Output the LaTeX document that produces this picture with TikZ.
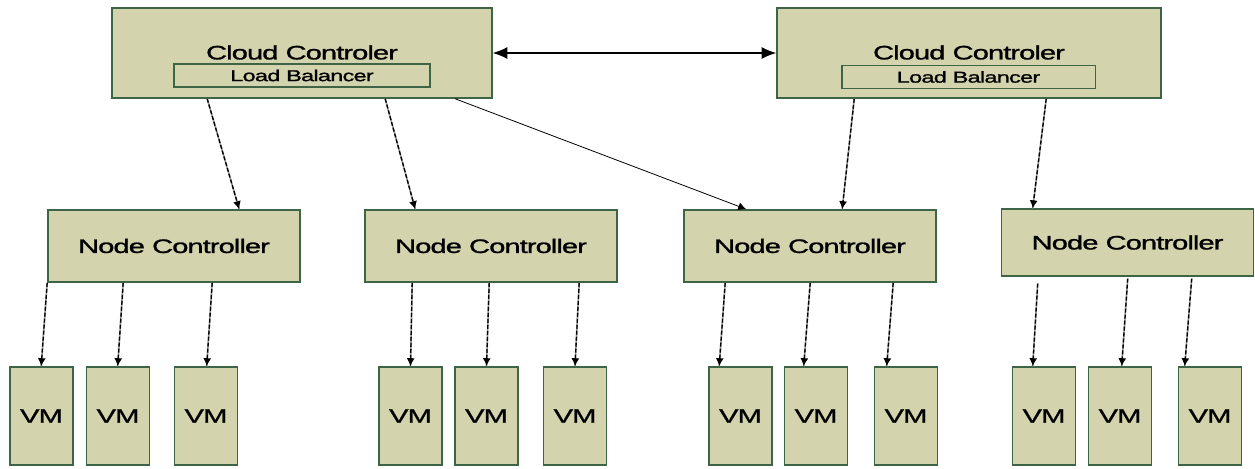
\documentclass[tikz,border=0pt]{standalone}
\usepackage{fontspec}
\newfontfamily\diagfont[FakeStretch=1.5,LetterSpace=-5,FakeBold=1.2]{Liberation Sans}
\usetikzlibrary{arrows.meta,calc}
\definecolor{boxfill}{RGB}{211,211,173}
\definecolor{boxline}{RGB}{62,100,70}

\begin{document}
\begin{tikzpicture}[
  x=0.75pt, y=-0.75pt,
  box/.style={draw=boxline, line width=1.2pt, fill=boxfill, inner sep=0pt, font=\diagfont\fontsize{14.6}{16}\selectfont},
  cloudbox/.style={box, minimum width=285pt, minimum height=67.5pt},
  lbbox/.style={box, line width=1pt, minimum width=192pt, minimum height=17.25pt, font=\diagfont\fontsize{11.8}{13}\selectfont},
  ncbox/.style={box, minimum width=189pt, minimum height=54pt},
  vmbox/.style={box, minimum width=47.25pt, minimum height=73.5pt},
  link/.style={-{Latex[length=6pt,width=6pt]}, line width=1pt, dash pattern=on 3pt off 1.5pt,
    preaction={draw=black!40, line width=1.2pt, solid, -}},
  thinlink/.style={-{Latex[length=6pt,width=6pt]}, line width=0.6pt},
  peer/.style={{Latex[length=11pt,width=9pt]}-{Latex[length=11pt,width=9pt]}, line width=0.8pt}
]
\useasboundingbox (0,0) rectangle (1255,468);

% cloud controllers
\node[cloudbox] (cc1) at (302,53) {\raisebox{1pt}{Cloud Controler}};
\node[lbbox] (lb1) at (302,75.5) {Load Balancer};
\node[cloudbox, minimum width=288pt] (cc2) at (969,53) {\raisebox{1pt}{Cloud Controler}};
\node[lbbox, minimum width=190pt] (lb2) at (968.5,77) {Load Balancer};
\draw[peer] (cc1.east) -- (cc2.west);

% node controllers
\node[ncbox] (nc1) at (174,246) {Node Controller};
\node[ncbox] (nc2) at (491,246) {Node Controller};
\node[ncbox] (nc3) at (810,246) {Node Controller};
\node[ncbox, minimum height=50pt] (nc4) at (1127.5,242.5) {Node Controller};

% virtual machines
\foreach \name/\cx in {vm11/41.5, vm12/118, vm13/206,
                       vm21/410.5, vm22/486.5, vm23/575,
                       vm31/740.5, vm32/816, vm33/906,
                       vm41/1044, vm42/1120, vm43/1210}
  \node[vmbox] (\name) at (\cx,416) {VM};

% cloud -> node controllers
\draw[link] ($(cc1.south west)+(96,0)$) -- ($(nc1.north west)+(192,0)$);
\draw[link] ($(cc1.south west)+(274,0)$) -- ($(nc2.north west)+(51,0)$);
\draw[thinlink] ($(cc1.south west)+(344,0)$) -- ($(nc3.north west)+(63,0)$);
\draw[link] ($(cc2.south west)+(78,0)$) -- ($(nc3.north west)+(159,0)$);
\draw[link] ($(cc2.south west)+(270,0)$) -- ($(nc4.north west)+(32,0)$);

% node controllers -> vms
\draw[link] (nc1.south west) -- ($(vm11.north west)+(32,0)$);
\draw[link] ($(nc1.south west)+(76,0)$) -- ($(vm12.north west)+(32,0)$);
\draw[link] ($(nc1.south west)+(165,0)$) -- ($(vm13.north west)+(33,0)$);
\draw[link] ($(nc2.south west)+(48,0)$) -- (vm21.north);
\draw[link] ($(nc2.south west)+(125,0)$) -- (vm22.north);
\draw[link] ($(nc2.south west)+(215,0)$) -- (vm23.north);
\draw[link] ($(nc3.south west)+(42,0)$) -- ($(vm31.north west)+(11,0)$);
\draw[link] ($(nc3.south west)+(127,0)$) -- ($(vm32.north west)+(20,0)$);
\draw[link] ($(nc3.south west)+(210,0)$) -- ($(vm33.north west)+(13,0)$);
\draw[link] ($(nc4.south west)+(37,7)$) -- ($(vm41.north west)+(21,0)$);
\draw[link] ($(nc4.south west)+(127,2)$) -- ($(vm42.north west)+(34,0)$);
\draw[link] ($(nc4.south west)+(191,2)$) -- ($(vm43.north west)+(7,0)$);
\end{tikzpicture}
\end{document}
